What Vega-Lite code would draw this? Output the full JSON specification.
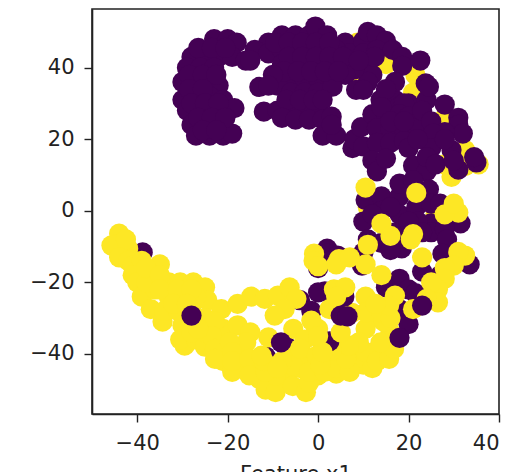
{"$schema":"https://vega.github.io/schema/vega-lite/v6.json","width":407,"height":405,"autosize":{"type":"none"},"padding":{"left":92,"top":9,"right":17,"bottom":58},"background":"white","config":{"view":{"stroke":"#222","strokeWidth":1.6},"axis":{"grid":false,"domainColor":"#222","domainWidth":1.6,"tickColor":"#222","tickWidth":1.4,"tickSize":8,"labelColor":"#222","titleColor":"#222","labelFont":"DejaVu Sans","titleFont":"DejaVu Sans","labelFontSize":21,"titleFontSize":21,"titleFontWeight":"normal"}},"datasets":{"pts":[
{"x":8.7,"y":47,"c":1},{"x":15,"y":41,"c":1},{"x":8.5,"y":37,"c":1},{"x":21,"y":33,"c":1},{"x":28,"y":26,"c":1},{"x":21.5,"y":38,"c":1},{"x":28,"y":13,"c":1},{"x":29.5,"y":9.5,"c":1},{"x":32.5,"y":17,"c":1},{"x":35.5,"y":13,"c":1},{"x":32.5,"y":12.5,"c":1},{"x":11,"y":1,"c":1},{"x":16,"y":2,"c":1},{"x":26,"y":-1,"c":1},
{"x":33.5,"y":-15,"c":0},{"x":27,"y":-18,"c":0},{"x":-38.8,"y":-11.6,"c":0},{"x":1.5,"y":-22.5,"c":0},{"x":0,"y":-22.8,"c":0},{"x":18,"y":-27.5,"c":0},{"x":20,"y":-31.7,"c":0},{"x":-7,"y":-38,"c":0},{"x":-11.6,"y":-40.7,"c":0},{"x":-4,"y":-25,"c":0},{"x":-1.5,"y":-28,"c":0},{"x":9.7,"y":-15.3,"c":0},{"x":10,"y":-11.6,"c":0},{"x":0,"y":-16,"c":0},
{"x":-23,"y":48,"c":0},{"x":-20,"y":48,"c":0},{"x":-18,"y":47,"c":0},{"x":-28,"y":43,"c":0},{"x":-25,"y":43,"c":0},{"x":-22,"y":43,"c":0},{"x":-19,"y":43,"c":0},{"x":-16,"y":42,"c":0},{"x":-29,"y":40,"c":0},{"x":-26,"y":40,"c":0},{"x":-23,"y":40,"c":0},{"x":-30,"y":36,"c":0},{"x":-27,"y":36,"c":0},{"x":-24,"y":36,"c":0},{"x":-22,"y":35,"c":0},{"x":-30,"y":31,"c":0},{"x":-27,"y":32,"c":0},{"x":-24,"y":32,"c":0},{"x":-21,"y":31,"c":0},{"x":-29,"y":28,"c":0},{"x":-26,"y":28,"c":0},{"x":-23,"y":28,"c":0},{"x":-18.5,"y":28.7,"c":0},{"x":-28,"y":24,"c":0},{"x":-25,"y":24,"c":0},{"x":-22,"y":24,"c":0},{"x":-27,"y":21,"c":0},{"x":-24,"y":21,"c":0},{"x":-21,"y":21,"c":0},{"x":-19,"y":21.6,"c":0},
{"x":-28.5,"y":38,"c":0},{"x":-25.5,"y":38,"c":0},{"x":-22.5,"y":38,"c":0},{"x":-28.5,"y":34,"c":0},{"x":-25.5,"y":34,"c":0},{"x":-28,"y":30,"c":0},{"x":-25,"y":30,"c":0},{"x":-22,"y":30,"c":0},{"x":-26.5,"y":26,"c":0},{"x":-23.5,"y":26,"c":0},{"x":-20.5,"y":26,"c":0},{"x":-25.5,"y":22.5,"c":0},{"x":-22.5,"y":22.5,"c":0},{"x":-26.5,"y":45.5,"c":0},{"x":-23.5,"y":45.5,"c":0},{"x":-20.5,"y":45.5,"c":0},
{"x":-11,"y":47,"c":0},{"x":-8,"y":49,"c":0},{"x":-5,"y":49,"c":0},{"x":-2,"y":49,"c":0},{"x":-0.6,"y":51.5,"c":0},{"x":2,"y":49,"c":0},{"x":6,"y":47,"c":0},{"x":7,"y":44,"c":0},{"x":10,"y":47.5,"c":0},{"x":11,"y":50,"c":0},{"x":13,"y":49,"c":0},{"x":15,"y":47.5,"c":0},{"x":-14,"y":45,"c":0},{"x":-11,"y":44,"c":0},{"x":-8,"y":45,"c":0},{"x":-5,"y":45,"c":0},{"x":-2,"y":45,"c":0},{"x":1,"y":45,"c":0},{"x":4,"y":45,"c":0},{"x":7,"y":42,"c":0},{"x":10,"y":44,"c":0},{"x":13,"y":45,"c":0},{"x":16.5,"y":45,"c":0},{"x":-15,"y":42,"c":0},{"x":-8,"y":41,"c":0},{"x":-5,"y":40,"c":0},{"x":-1,"y":41,"c":0},{"x":1,"y":41,"c":0},{"x":4,"y":41,"c":0},{"x":11,"y":41,"c":0},{"x":12,"y":38,"c":0},{"x":11,"y":36,"c":0},{"x":8,"y":39.5,"c":0},{"x":18.6,"y":43,"c":0},{"x":18.6,"y":40.5,"c":0},{"x":22.6,"y":42,"c":0},{"x":-6,"y":37,"c":0},{"x":-3,"y":37,"c":0},{"x":0,"y":37,"c":0},{"x":3,"y":37,"c":0},{"x":6,"y":38,"c":0},{"x":-13,"y":34.6,"c":0},{"x":-9,"y":35,"c":0},{"x":-6,"y":33,"c":0},{"x":-3,"y":33,"c":0},{"x":0,"y":33,"c":0},{"x":3.2,"y":34.7,"c":0},{"x":8.4,"y":33.8,"c":0},{"x":10,"y":33.8,"c":0},{"x":-12,"y":27.7,"c":0},{"x":-9,"y":28,"c":0},{"x":-6,"y":28,"c":0},{"x":-3,"y":28,"c":0},{"x":0,"y":28,"c":0},{"x":-7,"y":31,"c":0},{"x":-4,"y":31,"c":0},{"x":-1,"y":31,"c":0},{"x":1,"y":31,"c":0},{"x":-8,"y":26,"c":0},{"x":-5,"y":25.5,"c":0},{"x":-2,"y":25.5,"c":0},{"x":1,"y":25.5,"c":0},{"x":3,"y":26.3,"c":0},{"x":1,"y":21,"c":0},{"x":4,"y":21,"c":0},{"x":3,"y":24,"c":0},{"x":7.6,"y":17.5,"c":0},{"x":8,"y":20,"c":0},{"x":10,"y":18,"c":0},{"x":9.5,"y":23.4,"c":0},{"x":13.8,"y":31,"c":0},{"x":17,"y":31,"c":0},{"x":17.9,"y":29,"c":0},{"x":20,"y":30,"c":0},{"x":19,"y":30,"c":0},{"x":24,"y":31,"c":0},{"x":12,"y":27,"c":0},{"x":15,"y":27,"c":0},{"x":18,"y":27,"c":0},{"x":20,"y":26.3,"c":0},{"x":13,"y":23,"c":0},{"x":16,"y":23,"c":0},{"x":19,"y":23,"c":0},{"x":22,"y":23,"c":0},{"x":13,"y":19,"c":0},{"x":16,"y":19,"c":0},{"x":19,"y":19.5,"c":0},{"x":12,"y":14,"c":0},{"x":13,"y":11,"c":0},{"x":15,"y":14.6,"c":0},{"x":17,"y":36,"c":0},{"x":15,"y":34,"c":0},{"x":23.8,"y":35.6,"c":0},{"x":24.5,"y":34.7,"c":0},{"x":23,"y":28,"c":0},{"x":25,"y":25,"c":0},{"x":28,"y":29.7,"c":0},{"x":31,"y":26,"c":0},{"x":31,"y":24,"c":0},{"x":32,"y":21.6,"c":0},{"x":28,"y":22,"c":0},{"x":25.5,"y":21.6,"c":0},{"x":29.5,"y":17,"c":0},{"x":25,"y":17.5,"c":0},{"x":20,"y":17.5,"c":0},{"x":21,"y":12.6,"c":0},{"x":24,"y":11,"c":0},{"x":24,"y":15,"c":0},{"x":26,"y":13,"c":0},{"x":31,"y":11.5,"c":0},{"x":30,"y":14,"c":0},{"x":35,"y":13.5,"c":0},{"x":34.5,"y":15,"c":0},
{"x":-9.5,"y":47,"c":0},{"x":-6.5,"y":47,"c":0},{"x":-3.5,"y":47,"c":0},{"x":-0.5,"y":47,"c":0},{"x":2.5,"y":47,"c":0},{"x":-6.5,"y":43,"c":0},{"x":-3.5,"y":43,"c":0},{"x":-0.5,"y":43,"c":0},{"x":2.5,"y":43,"c":0},{"x":5.5,"y":43,"c":0},{"x":-7.5,"y":39,"c":0},{"x":-4.5,"y":39,"c":0},{"x":-1.5,"y":39,"c":0},{"x":1.5,"y":39,"c":0},{"x":4.5,"y":39,"c":0},{"x":-10,"y":38,"c":0},{"x":-11,"y":35,"c":0},{"x":12.5,"y":43,"c":0},{"x":9,"y":42,"c":0},{"x":14,"y":29,"c":0},{"x":16,"y":25,"c":0},{"x":19,"y":25,"c":0},{"x":22,"y":20,"c":0},{"x":28,"y":20,"c":0},
{"x":10.5,"y":3,"c":0},{"x":14,"y":4,"c":0},{"x":10,"y":-3,"c":0},{"x":18,"y":4,"c":0},{"x":18,"y":7.6,"c":0},{"x":18,"y":-1,"c":0},{"x":14,"y":0,"c":0},{"x":21.7,"y":1,"c":0},{"x":21,"y":8.5,"c":0},{"x":24.5,"y":6,"c":0},{"x":25,"y":2,"c":0},{"x":27,"y":2,"c":0},{"x":31.5,"y":-3.5,"c":0},{"x":25,"y":-3.5,"c":0},{"x":22,"y":-3,"c":0},{"x":17,"y":-6,"c":0},{"x":25,"y":-6,"c":0},{"x":28,"y":-5,"c":0},{"x":11,"y":-8,"c":0},{"x":16,"y":1,"c":0},{"x":12,"y":-1,"c":0},{"x":20,"y":-3,"c":0},{"x":23,"y":-6,"c":0},{"x":16,"y":-9,"c":0},
{"x":14,"y":-9,"c":0},{"x":18.5,"y":-10.5,"c":0},{"x":16,"y":-11,"c":0},{"x":28.5,"y":-8,"c":0},{"x":27.5,"y":-12,"c":0},{"x":23,"y":-17,"c":0},{"x":18,"y":-19,"c":0},{"x":15,"y":-21.4,"c":0},{"x":20,"y":-22,"c":0},{"x":21.5,"y":-23,"c":0},
{"x":10.5,"y":6.5,"c":1},{"x":21.7,"y":5,"c":1},{"x":14,"y":-3.6,"c":1},{"x":21,"y":-6.5,"c":1},{"x":31,"y":-0.5,"c":1},{"x":28,"y":-1,"c":1},{"x":30,"y":2,"c":1},{"x":11,"y":-9.5,"c":1},{"x":10.5,"y":-15,"c":1},{"x":14,"y":-18,"c":1},{"x":23,"y":-13,"c":1},{"x":20.5,"y":-8,"c":1},{"x":16,"y":-7,"c":1},{"x":17,"y":-23.7,"c":1},
{"x":32.5,"y":-12.5,"c":1},{"x":31,"y":-11.5,"c":1},{"x":30,"y":-15.3,"c":1},{"x":28,"y":-16,"c":1},{"x":28,"y":-19,"c":1},{"x":26.5,"y":-22,"c":1},{"x":25,"y":-20,"c":1},{"x":26.5,"y":-25.6,"c":1},{"x":24,"y":-24.6,"c":1},{"x":21,"y":-27.5,"c":1},
{"x":-44,"y":-6.4,"c":1},{"x":-44.3,"y":-9.3,"c":1},{"x":-45.7,"y":-9.7,"c":1},{"x":-42,"y":-10.6,"c":1},{"x":-42.5,"y":-8,"c":1},{"x":-44,"y":-13,"c":1},{"x":-42,"y":-14,"c":1},{"x":-41,"y":-15.3,"c":1},{"x":-39,"y":-14,"c":1},{"x":-41,"y":-18,"c":1},{"x":-37,"y":-21,"c":1},{"x":-40,"y":-20,"c":1},{"x":-39,"y":-24,"c":1},{"x":-37,"y":-27.5,"c":1},{"x":-34.4,"y":-31,"c":1},{"x":-35,"y":-15,"c":1},{"x":-37,"y":-18,"c":1},{"x":-33,"y":-20,"c":1},{"x":-30.5,"y":-20,"c":1},{"x":-27.6,"y":-20,"c":1},{"x":-25,"y":-21.4,"c":1},{"x":-24.5,"y":-25,"c":1},{"x":-36,"y":-22,"c":1},{"x":-33,"y":-24,"c":1},{"x":-30,"y":-24,"c":1},{"x":-27,"y":-24,"c":1},{"x":-34,"y":-28,"c":1},{"x":-31,"y":-28,"c":1},{"x":-28,"y":-28,"c":1},{"x":-30,"y":-32,"c":1},{"x":-27,"y":-32,"c":1},{"x":-29.5,"y":-37.7,"c":1},{"x":-30.5,"y":-36,"c":1},{"x":-27,"y":-36,"c":1},{"x":-25,"y":-38,"c":1},
{"x":-38,"y":-20,"c":1},{"x":-38,"y":-16,"c":1},{"x":-35,"y":-18,"c":1},{"x":-35,"y":-22,"c":1},{"x":-31,"y":-22,"c":1},{"x":-28,"y":-22,"c":1},{"x":-32,"y":-26,"c":1},{"x":-29,"y":-26,"c":1},{"x":-28,"y":-34,"c":1},{"x":-25,"y":-34,"c":1},{"x":-25,"y":-30,"c":1},{"x":-21,"y":-36,"c":1},{"x":-21,"y":-33,"c":1},{"x":-17,"y":-39,"c":1},{"x":-21,"y":-42,"c":1},{"x":-17,"y":-44,"c":1},{"x":-13,"y":-47,"c":1},{"x":-13,"y":-43,"c":1},{"x":-7,"y":-47,"c":1},{"x":-4,"y":-44,"c":1},{"x":-7.5,"y":-44,"c":1},{"x":-6,"y":-41,"c":1},{"x":-3,"y":-41,"c":1},{"x":2,"y":-41,"c":1},{"x":4,"y":-42,"c":1},{"x":8,"y":-43,"c":1},{"x":10,"y":-43,"c":1},{"x":9,"y":-41,"c":1},{"x":13,"y":-39,"c":1},{"x":12,"y":-30,"c":1},{"x":16,"y":-34,"c":1},{"x":15,"y":-37,"c":1},{"x":1,"y":-37,"c":1},{"x":-1,"y":-35,"c":1},{"x":4,"y":-45.5,"c":1},{"x":0,"y":-46,"c":1},
{"x":-21.4,"y":-27.5,"c":1},{"x":-17.8,"y":-26,"c":1},{"x":-14.8,"y":-24,"c":1},{"x":-11.8,"y":-24.6,"c":1},{"x":-8.9,"y":-23.7,"c":1},{"x":-6.3,"y":-21.4,"c":1},{"x":-4.8,"y":-24.6,"c":1},{"x":-7.4,"y":-27.5,"c":1},{"x":-9.6,"y":-29.3,"c":1},{"x":-22.8,"y":-31,"c":1},{"x":-23.5,"y":-35,"c":1},{"x":-26.5,"y":-33,"c":1},{"x":-22.8,"y":-38.6,"c":1},{"x":-17.8,"y":-32,"c":1},{"x":-15,"y":-34,"c":1},{"x":-15.9,"y":-36.8,"c":1},{"x":-19.5,"y":-36.8,"c":1},{"x":-22.8,"y":-41.4,"c":1},{"x":-19,"y":-39.5,"c":1},{"x":-19,"y":-45,"c":1},{"x":-19,"y":-42,"c":1},{"x":-15.2,"y":-41.4,"c":1},{"x":-15.2,"y":-46,"c":1},{"x":-11.6,"y":-50,"c":1},{"x":-9.4,"y":-50.7,"c":1},{"x":-9.4,"y":-46,"c":1},{"x":-11.6,"y":-45,"c":1},{"x":-11,"y":-35.4,"c":1},{"x":-5.6,"y":-43.3,"c":1},{"x":-5.6,"y":-49,"c":1},{"x":-2.7,"y":-50.7,"c":1},{"x":-2,"y":-48,"c":1},{"x":-2,"y":-45,"c":1},{"x":1.4,"y":-45,"c":1},{"x":4,"y":-44,"c":1},{"x":7,"y":-45,"c":1},{"x":6.2,"y":-41.4,"c":1},{"x":10.5,"y":-39.5,"c":1},{"x":12,"y":-44,"c":1},{"x":13,"y":-42,"c":1},{"x":15.7,"y":-41.4,"c":1},{"x":16.8,"y":-38.6,"c":1},{"x":13.8,"y":-36.8,"c":1},{"x":14.5,"y":-31,"c":1},{"x":10.5,"y":-33,"c":1},{"x":9,"y":-36.8,"c":1},{"x":6.8,"y":-37.7,"c":1},{"x":10.5,"y":-24,"c":1},{"x":7.5,"y":-28.5,"c":1},{"x":10.5,"y":-28.4,"c":1},{"x":14,"y":-28.4,"c":1},{"x":16,"y":-30,"c":1},{"x":15.7,"y":-26.5,"c":1},{"x":12.7,"y":-26,"c":1},{"x":3,"y":-39,"c":1},{"x":0,"y":-33,"c":1},{"x":-1.5,"y":-30.7,"c":1},{"x":-5.5,"y":-33,"c":1},{"x":-3,"y":-36,"c":1},{"x":-4,"y":-38.5,"c":1},{"x":-0.3,"y":-40.5,"c":1},{"x":0.5,"y":-43,"c":1},{"x":-12,"y":-42,"c":1},{"x":-8,"y":-42,"c":1},{"x":-9,"y":-44,"c":1},
{"x":2.5,"y":-36.5,"c":0},{"x":1,"y":-39.5,"c":1},{"x":5,"y":-34,"c":1},{"x":0,"y":-35,"c":1},
{"x":2,"y":-10.6,"c":0},{"x":2,"y":-12,"c":0},{"x":4.3,"y":-12.5,"c":0},{"x":-0.9,"y":-12,"c":1},{"x":-1,"y":-14,"c":1},{"x":4.6,"y":-13.5,"c":1},{"x":4,"y":-15,"c":1},{"x":0,"y":-15.5,"c":1},{"x":7,"y":-13,"c":1},
{"x":5.8,"y":-24,"c":0},{"x":3.5,"y":-22,"c":1},{"x":6,"y":-21.4,"c":1},{"x":2.5,"y":-27.5,"c":1},{"x":4,"y":-24,"c":1},{"x":5,"y":-29.3,"c":0},{"x":6.5,"y":-29.5,"c":0},{"x":23,"y":-26.5,"c":0},{"x":18,"y":-35.5,"c":0},{"x":-28,"y":-29.3,"c":0},{"x":-8.2,"y":-36.8,"c":0},{"x":-12.5,"y":-40.5,"c":1}
]},"data":{"name":"pts"},"mark":{"type":"point","filled":true,"opacity":1,"size":410,"strokeWidth":0},"encoding":{"x":{"field":"x","type":"quantitative","scale":{"domain":[-50,40],"nice":false,"zero":false},"axis":{"values":[-40,-20,0,20,40],"title":"Feature x1","labelPadding":10,"titleBaseline":"alphabetic","titleY":66,"titleAnchor":"middle"}},"y":{"field":"y","type":"quantitative","scale":{"domain":[-56.8,56.4],"nice":false,"zero":false},"axis":{"values":[-40,-20,0,20,40],"title":null,"labelPadding":10}},"color":{"field":"c","type":"nominal","scale":{"domain":[0,1],"range":["#440154","#fde725"]},"legend":null}}}
